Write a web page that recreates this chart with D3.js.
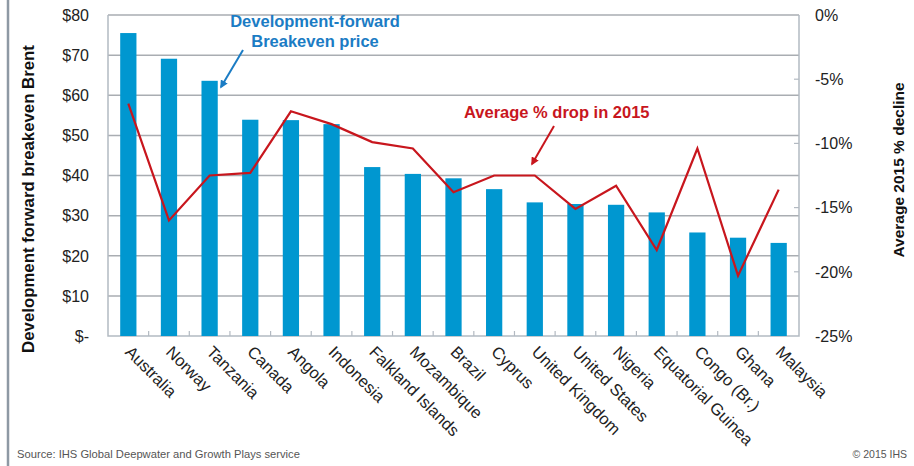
<!DOCTYPE html>
<html>
<head>
<meta charset="utf-8">
<script src="https://cdn.jsdelivr.net/npm/d3@7"></script>
<style>
  body { margin: 0; background: #fff; }
  svg text { font-family: "Liberation Sans", Arial, sans-serif; }
</style>
</head>
<body>
<svg id="chart" width="914" height="466"></svg>
<script>
// data
const countries = ["Australia", "Norway", "Tanzania", "Canada", "Angola", "Indonesia",
    "Falkland Islands", "Mozambique", "Brazil", "Cyprus", "United Kingdom", "United States",
    "Nigeria", "Equatorial Guinea", "Congo (Br.)", "Ghana", "Malaysia"];
const breakeven = [75.5, 69.1, 63.6, 53.9, 53.8, 52.8, 42.1, 40.4, 39.3, 36.6, 33.3, 32.9,
    32.7, 30.8, 25.8, 24.5, 23.2];
const drop2015 = [-6.9, -16.0, -12.5, -12.3, -7.5, -8.5, -9.9, -10.4, -13.8, -12.5, -12.5,
    -15.1, -13.3, -18.3, -10.4, -20.3, -13.6];
const leftTicks = [0, 10, 20, 30, 40, 50, 60, 70, 80];
const rightTicks = [0, -5, -10, -15, -20, -25];

const svg = d3.select("#chart");
const plotLeft = 108, plotRight = 799, plotTop = 15, plotBottom = 336;

const x = d3.scaleBand().domain(countries).range([plotLeft, plotRight]).paddingInner(0.6).paddingOuter(0.3);
const xc = d3.scaleBand().domain(countries).range([plotLeft, plotRight]);
const y = d3.scaleLinear().domain([0, 80]).range([plotBottom, plotTop]);
const y2 = d3.scaleLinear().domain([-25, 0]).range([plotBottom, plotTop]);

// outer frame line on the left
svg.append("line")
    .attr("x1", 8).attr("x2", 8).attr("y1", 0).attr("y2", 466)
    .attr("stroke", "#8e99a4").attr("stroke-width", 2.5);

// gridlines
svg.append("g")
    .selectAll("line")
    .data(leftTicks.filter(d => d > 0))
    .enter()
    .append("line")
    .attr("x1", plotLeft).attr("x2", plotRight)
    .attr("y1", d => y(d)).attr("y2", d => y(d))
    .attr("stroke", "#a9adb2").attr("stroke-width", 1.5);

// plot border (left, right, bottom)
svg.append("path")
    .attr("d", `M${plotLeft},${plotTop}V${plotBottom}H${plotRight}V${plotTop}`)
    .attr("fill", "none").attr("stroke", "#b3bac2").attr("stroke-width", 1.5);

// bottom tick marks at category boundaries
svg.append("g")
    .selectAll("line")
    .data(countries.slice(1))
    .enter()
    .append("line")
    .attr("x1", d => xc(d)).attr("x2", d => xc(d))
    .attr("y1", plotBottom).attr("y2", plotBottom - 5)
    .attr("stroke", "#b3bac2").attr("stroke-width", 1.2);

// right axis small inner ticks
svg.append("g")
    .selectAll("line")
    .data(rightTicks.filter(d => d < 0 && d > -25))
    .enter()
    .append("line")
    .attr("x1", plotRight - 5).attr("x2", plotRight)
    .attr("y1", d => y2(d)).attr("y2", d => y2(d))
    .attr("stroke", "#b3bac2").attr("stroke-width", 1.2);

// bars
svg.append("g")
    .selectAll("rect")
    .data(countries)
    .enter()
    .append("rect")
    .attr("x", d => x(d))
    .attr("width", x.bandwidth())
    .attr("y", (d, i) => y(breakeven[i]))
    .attr("height", (d, i) => plotBottom - y(breakeven[i]))
    .attr("fill", "#0097d0");

// line
const line = d3.line()
    .x((d, i) => xc(countries[i]) + xc.bandwidth() / 2)
    .y(d => y2(d));
svg.append("path")
    .datum(drop2015)
    .attr("d", line)
    .attr("fill", "none")
    .attr("stroke", "#c8161d")
    .attr("stroke-width", 2.2)
    .attr("stroke-linejoin", "miter");

// left axis labels
svg.append("g")
    .selectAll("text")
    .data(leftTicks)
    .enter()
    .append("text")
    .attr("x", 89)
    .attr("y", d => y(d))
    .attr("dy", "0.36em")
    .attr("text-anchor", "end")
    .attr("font-size", 16)
    .attr("fill", "#222")
    .text(d => d === 0 ? "$-" : "$" + d);

// right axis labels
svg.append("g")
    .selectAll("text")
    .data(rightTicks)
    .enter()
    .append("text")
    .attr("x", 815)
    .attr("y", d => y2(d))
    .attr("dy", "0.36em")
    .attr("font-size", 16)
    .attr("fill", "#222")
    .text(d => d + "%");

// category labels, rotated
svg.append("g")
    .selectAll("text")
    .data(countries)
    .enter()
    .append("text")
    .attr("transform", d => `translate(${xc(d) + xc.bandwidth() / 2 - 4},${plotBottom + 17}) rotate(45)`)
    .attr("font-size", 16.5)
    .attr("fill", "#222")
    .text(d => d);

// axis titles
svg.append("text")
    .attr("transform", "translate(34,199) rotate(-90)")
    .attr("text-anchor", "middle")
    .attr("font-size", 16.8)
    .attr("font-weight", "bold")
    .attr("fill", "#111")
    .text("Development forward breakeven Brent");

svg.append("text")
    .attr("transform", "translate(904,170) rotate(-90)")
    .attr("text-anchor", "middle")
    .attr("font-size", 15.5)
    .attr("font-weight", "bold")
    .attr("fill", "#111")
    .text("Average 2015 % decline");

// annotations
const blue = "#1b7cc4", red = "#c8161d";
const ann1 = svg.append("text")
    .attr("text-anchor", "middle")
    .attr("font-size", 16.5)
    .attr("font-weight", "bold")
    .attr("fill", blue);
ann1.append("tspan").attr("x", 315).attr("y", 27).text("Development-forward");
ann1.append("tspan").attr("x", 315).attr("y", 47).text("Breakeven price");

svg.append("text")
    .attr("x", 464).attr("y", 118)
    .attr("font-size", 16.5)
    .attr("font-weight", "bold")
    .attr("fill", red)
    .text("Average % drop in 2015");

const defs = svg.append("defs");
[["arrBlue", blue], ["arrRed", red]].forEach(([id, c]) => {
    defs.append("marker")
        .attr("id", id)
        .attr("viewBox", "0 0 10 10")
        .attr("refX", 8).attr("refY", 5)
        .attr("markerWidth", 4).attr("markerHeight", 4)
        .attr("orient", "auto")
        .append("path")
        .attr("d", "M0,0L10,5L0,10z")
        .attr("fill", c);
});

svg.append("line")
    .attr("x1", 243).attr("y1", 50).attr("x2", 221).attr("y2", 87)
    .attr("stroke", blue).attr("stroke-width", 2)
    .attr("marker-end", "url(#arrBlue)");
svg.append("line")
    .attr("x1", 554).attr("y1", 126).attr("x2", 532).attr("y2", 164)
    .attr("stroke", red).attr("stroke-width", 2)
    .attr("marker-end", "url(#arrRed)");

// footer
svg.append("text")
    .attr("x", 17).attr("y", 458)
    .attr("font-size", 11.2)
    .attr("fill", "#555")
    .text("Source: IHS Global Deepwater and Growth Plays service");
svg.append("text")
    .attr("x", 907).attr("y", 458)
    .attr("text-anchor", "end")
    .attr("font-size", 10.5)
    .attr("fill", "#555")
    .text("© 2015 IHS");
</script>
</body>
</html>
